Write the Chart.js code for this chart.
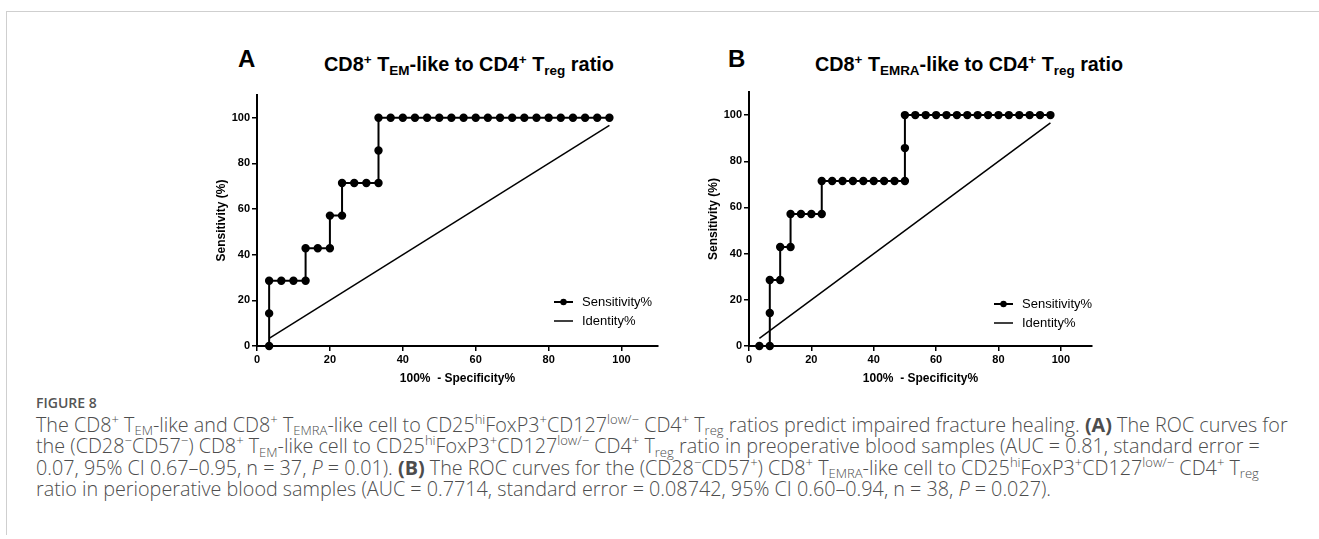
<!DOCTYPE html>
<html>
<head>
<meta charset="utf-8">
<script src="https://cdn.jsdelivr.net/npm/chart.js@4.4.1/dist/chart.umd.min.js"></script>
<style>
  html, body { margin: 0; padding: 0; background: #fff; }
  body { width: 1319px; height: 539px; position: relative; overflow: hidden; }
  #frame { position: absolute; left: 6px; top: 11px; width: 1400px; height: 523px;
           border-top: 1px solid #cfcfcf; border-left: 1px solid #cfcfcf; }
  .letter { position: absolute; font: bold 24px "Liberation Sans", Arial, sans-serif; color: #000; line-height: 1; }
  .ptitle { position: absolute; font: bold 19px "Liberation Sans", Arial, sans-serif; color: #000;
            white-space: nowrap; line-height: 1; }
  .ptitle sup, .ptitle sub { font-size: 0.68em; line-height: 0; position: relative; vertical-align: baseline; }
  .ptitle sup { top: -0.55em; }
  .ptitle sub { top: 0.3em; }
  .box { position: absolute; }
  #caption { position: absolute; left: 36px; top: 392px; width: 1290px;
             font: 300 15px "Open Sans", sans-serif; color: #4d4d4d; line-height: 21.5px; white-space: nowrap; }
  #caption .fig { font-size: 14px; font-weight: 600; color: #555; }
  #caption b { font-weight: 700; }
  #caption sup, #caption sub { font-size: 0.66em; line-height: 0; position: relative; vertical-align: baseline; }
  #caption sup { top: -0.6em; }
  #caption sub { top: 0.3em; }
</style>
</head>
<body>
<div id="frame"></div>

<div class="letter" style="left:238px;top:47px;">A</div>
<div class="ptitle" id="titleA" style="left:324px;top:56px;">CD8<sup>+</sup> T<sub>EM</sub>-like to CD4<sup>+</sup> T<sub>reg</sub> ratio</div>
<div class="box" style="left:200px;top:85px;width:470px;height:303px;"><canvas id="chartA"></canvas></div>

<div class="letter" style="left:728px;top:47px;">B</div>
<div class="ptitle" id="titleB" style="left:815px;top:56px;">CD8<sup>+</sup> T<sub>EMRA</sub>-like to CD4<sup>+</sup> T<sub>reg</sub> ratio</div>
<div class="box" style="left:692px;top:82px;width:412px;height:306px;"><canvas id="chartB"></canvas></div>

<div id="caption">
<div class="fig">FIGURE 8</div>
<div><span id="line1">The CD8<sup>+</sup> T<sub>EM</sub>-like and CD8<sup>+</sup> T<sub>EMRA</sub>-like cell to CD25<sup>hi</sup>FoxP3<sup>+</sup>CD127<sup>low/−</sup> CD4<sup>+</sup> T<sub>reg</sub> ratios predict impaired fracture healing. <b>(A)</b> The ROC curves for</span></div>
<div>the (CD28<sup>−</sup>CD57<sup>−</sup>) CD8<sup>+</sup> T<sub>EM</sub>-like cell to CD25<sup>hi</sup>FoxP3<sup>+</sup>CD127<sup>low/−</sup> CD4<sup>+</sup> T<sub>reg</sub> ratio in preoperative blood samples (AUC = 0.81, standard error =</div>
<div>0.07, 95% CI 0.67–0.95, n = 37, <i>P</i> = 0.01). <b>(B)</b> The ROC curves for the (CD28<sup>−</sup>CD57<sup>+</sup>) CD8<sup>+</sup> T<sub>EMRA</sub>-like cell to CD25<sup>hi</sup>FoxP3<sup>+</sup>CD127<sup>low/−</sup> CD4<sup>+</sup> T<sub>reg</sub></div>
<div>ratio in perioperative blood samples (AUC = 0.7714, standard error = 0.08742, 95% CI 0.60–0.94, n = 38, <i>P</i> = 0.027).</div>
</div>

<script>
// panel A: CD8+ TEM-like / CD4+ Treg
const fprA = [3.33, 3.33, 3.33, 6.67, 10, 13.33, 13.33, 16.67, 20, 20, 23.33, 23.33, 26.67, 30, 33.33, 33.33, 33.33,
              36.67, 40, 43.33, 46.67, 50, 53.33, 56.67, 60, 63.33, 66.67, 70, 73.33, 76.67, 80, 83.33, 86.67, 90, 93.33, 96.67];
const sensA = [0, 14.29, 28.57, 28.57, 28.57, 28.57, 42.86, 42.86, 42.86, 57.14, 57.14, 71.43, 71.43, 71.43, 71.43, 85.71, 100,
               100, 100, 100, 100, 100, 100, 100, 100, 100, 100, 100, 100, 100, 100, 100, 100, 100, 100, 100];

// panel B: CD8+ TEMRA-like / CD4+ Treg
const fprB = [3.33, 6.67, 6.67, 6.67, 10, 10, 13.33, 13.33, 16.67, 20, 23.33, 23.33, 26.67, 30, 33.33, 36.67, 40, 43.33, 46.67, 50, 50, 50,
              53.33, 56.67, 60, 63.33, 66.67, 70, 73.33, 76.67, 80, 83.33, 86.67, 90, 93.33, 96.67];
const sensB = [0, 0, 14.29, 28.57, 28.57, 42.86, 42.86, 57.14, 57.14, 57.14, 57.14, 71.43, 71.43, 71.43, 71.43, 71.43, 71.43, 71.43, 71.43, 71.43, 85.71, 100,
               100, 100, 100, 100, 100, 100, 100, 100, 100, 100, 100, 100, 100, 100];

const identityX = [3.33, 96.67];
const identityY = [3.33, 96.67];

const xTicks = [0, 20, 40, 60, 80, 100];
const yTicks = [0, 20, 40, 60, 80, 100];

const FONT = '"Liberation Sans", Arial, sans-serif';

// legend drawn inside the plot, bottom right
const insideLegend = {
    id: 'insideLegend',
    afterDraw(chart, args, opts) {
        const { ctx, chartArea } = chart;
        const x0 = chartArea.right - opts.dx;
        const y0 = chartArea.bottom - opts.dy;
        const ds = chart.data.datasets;
        ctx.save();
        ctx.strokeStyle = '#000';
        ctx.fillStyle = '#000';
        ctx.lineWidth = 2;
        ctx.beginPath(); ctx.moveTo(x0, y0); ctx.lineTo(x0 + 19, y0); ctx.stroke();
        ctx.beginPath(); ctx.arc(x0 + 9.5, y0, 3.2, 0, Math.PI * 2); ctx.fill();
        ctx.lineWidth = 1.5;
        ctx.beginPath(); ctx.moveTo(x0, y0 + 19); ctx.lineTo(x0 + 19, y0 + 19); ctx.stroke();
        ctx.font = '13px ' + FONT;
        ctx.textBaseline = 'middle';
        ctx.fillText(ds[0].label, x0 + 28, y0);
        ctx.fillText(ds[1].label, x0 + 28, y0 + 19);
        ctx.restore();
    }
};

function makeRoc(id, fpr, sens, legendPos) {
    const ctx = document.getElementById(id);
    return new Chart(ctx, {
        type: 'scatter',
        data: {
            datasets: [{
                label: 'Sensitivity%',
                data: fpr.map((x, i) => ({ x: x, y: sens[i] })),
                showLine: true,
                borderColor: '#000',
                backgroundColor: '#000',
                borderWidth: 2,
                pointRadius: 3.2,
                pointHoverRadius: 3.2,
                clip: false
            }, {
                label: 'Identity%',
                data: identityX.map((x, i) => ({ x: x, y: identityY[i] })),
                showLine: true,
                borderColor: '#000',
                borderWidth: 1.5,
                pointRadius: 0,
                clip: false
            }]
        },
        options: {
            responsive: true,
            maintainAspectRatio: false,
            animation: false,
            layout: { padding: { top: 10, right: 12, left: 10, bottom: 0 } },
            plugins: {
                legend: { display: false },
                tooltip: { enabled: false },
                insideLegend: legendPos
            },
            scales: {
                x: {
                    type: 'linear', min: 0, max: 110,
                    afterBuildTicks: axis => { axis.ticks = xTicks.map(v => ({ value: v })); },
                    afterFit: axis => { axis.height = 42; },
                    grid: { drawOnChartArea: false, drawTicks: true, tickLength: 5, color: '#000', lineWidth: 1.5 },
                    border: { color: '#000', width: 2 },
                    ticks: { color: '#000', padding: 2, font: { family: FONT, size: 11, weight: 'bold' } },
                    title: { display: true, text: '100%  - Specificity%', color: '#000', padding: { top: 2, bottom: 2 },
                             font: { family: FONT, size: 12, weight: 'bold' } }
                },
                y: {
                    type: 'linear', min: 0, max: 110,
                    afterBuildTicks: axis => { axis.ticks = yTicks.map(v => ({ value: v })); },
                    afterFit: axis => { axis.width = 47; },
                    grid: { drawOnChartArea: false, drawTicks: true, tickLength: 5, color: '#000', lineWidth: 1.5 },
                    border: { color: '#000', width: 2 },
                    ticks: { color: '#000', padding: 2, font: { family: FONT, size: 11, weight: 'bold' } },
                    title: { display: true, text: 'Sensitivity (%)', color: '#000', padding: { top: 4, bottom: 4 },
                             font: { family: FONT, size: 12, weight: 'bold' } }
                }
            }
        },
        plugins: [insideLegend]
    });
}

makeRoc('chartA', fprA, sensA, { dx: 104, dy: 44 });
makeRoc('chartB', fprB, sensB, { dx: 98, dy: 42 });

// size the panel titles and the caption to the widths they take in the figure
function fitTitle(id, width, baseline) {
    const el = document.getElementById(id);
    el.style.fontSize = '19px';
    const size = 19 * width / el.getBoundingClientRect().width;
    el.style.fontSize = size + 'px';
    el.style.top = (baseline - 0.85 * size) + 'px';
}
function fitCaption() {
    const cap = document.getElementById('caption');
    cap.style.fontSize = '15px';
    const w = document.getElementById('line1').getBoundingClientRect().width;
    cap.style.fontSize = (15 * 1252 / w) + 'px';
}
function layoutText() {
    fitTitle('titleA', 290, 72);
    fitTitle('titleB', 308, 72);
    fitCaption();
}
layoutText();
if (document.fonts) document.fonts.ready.then(layoutText);
</script>
</body>
</html>
